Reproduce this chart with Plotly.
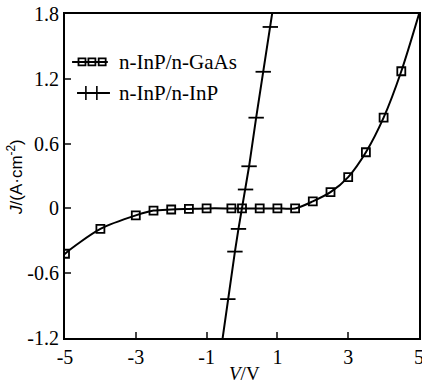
import plotly.graph_objects as go

# n-InP/n-GaAs
v_gaas = [-5, -4, -3, -2.5, -2, -1.5, -1, -0.3, 0, 0.5, 1, 1.5, 2, 2.5, 3, 3.5, 4, 4.5]
j_gaas = [-0.42, -0.19, -0.065, -0.02, -0.01, -0.005, 0.0, 0.0, 0.0, 0.0, 0.0, 0.0, 0.065, 0.15, 0.29, 0.52, 0.84, 1.27]
v_gaas_line = [-5.1] + v_gaas + [5.0]
j_gaas_line = [-0.46] + j_gaas + [1.80]

# n-InP/n-InP
v_inp = [-0.4, -0.2, -0.1, 0.1, 0.2, 0.4, 0.6, 0.8]
j_inp = [-0.84, -0.40, -0.19, 0.175, 0.39, 0.84, 1.265, 1.68]
v_inp_line = [-0.62] + v_inp + [0.92]
j_inp_line = [-1.37] + j_inp + [1.95]

x_ticks = [-5, -3, -1, 1, 3, 5]
x_tick_text = ["-5", "-3", "-1", "1", "3", "5"]
y_ticks = [-1.2, -0.6, 0, 0.6, 1.2, 1.8]
y_tick_text = ["-1.2", "-0.6", "0", "0.6", "1.2", "1.8"]

# legend sample geometry (overlay axis 0..1)
leg_g_line_x = [0.02, 0.121]
leg_g_mark_x = [0.048, 0.076, 0.105]
leg_g_y = 0.852
leg_i_line_x = [0.034, 0.127]
leg_i_mark_x = [0.059, 0.090]
leg_i_y = 0.756
leg_text_x = 0.147

SERIF = "Liberation Serif, Times New Roman, Tinos, serif"
SANS = "Liberation Sans, Arial, sans-serif"
fig = go.Figure()

fig.add_trace(go.Scatter(x=v_gaas_line, y=j_gaas_line, mode="lines",
                         line=dict(color="black", width=2, shape="spline", smoothing=0.8),
                         showlegend=False, hoverinfo="skip"))
fig.add_trace(go.Scatter(x=v_gaas, y=j_gaas, mode="markers", name="n-InP/n-GaAs",
                         marker=dict(symbol="square-open", size=8, color="black", line=dict(width=1.8)),
                         showlegend=False))
fig.add_trace(go.Scatter(x=v_inp_line, y=j_inp_line, mode="lines",
                         line=dict(color="black", width=2),
                         showlegend=False, hoverinfo="skip"))
fig.add_trace(go.Scatter(x=v_inp, y=j_inp, mode="markers", name="n-InP/n-InP",
                         marker=dict(symbol="line-ew", size=11, color="black", line=dict(width=1.8, color="black")),
                         showlegend=False))

# legend samples
fig.add_trace(go.Scatter(x=leg_g_line_x, y=[leg_g_y] * 2, mode="lines", xaxis="x2", yaxis="y2",
                         line=dict(color="black", width=2), showlegend=False, hoverinfo="skip"))
fig.add_trace(go.Scatter(x=leg_g_mark_x, y=[leg_g_y] * 3, mode="markers", xaxis="x2", yaxis="y2",
                         marker=dict(symbol="square-open", size=7, color="black", line=dict(width=1.8)),
                         showlegend=False, hoverinfo="skip"))
fig.add_trace(go.Scatter(x=leg_i_line_x, y=[leg_i_y] * 2, mode="lines", xaxis="x2", yaxis="y2",
                         line=dict(color="black", width=2), showlegend=False, hoverinfo="skip"))
fig.add_trace(go.Scatter(x=leg_i_mark_x, y=[leg_i_y] * 2, mode="markers", xaxis="x2", yaxis="y2",
                         marker=dict(symbol="line-ns", size=10, color="black", line=dict(width=1.6, color="black")),
                         showlegend=False, hoverinfo="skip"))
fig.add_annotation(x=leg_text_x, y=leg_g_y, xref="x2", yref="y2", text="n-InP/n-GaAs", showarrow=False,
                   xanchor="left", yanchor="middle", font=dict(family=SERIF, size=21, color="black"))
fig.add_annotation(x=leg_text_x, y=leg_i_y, xref="x2", yref="y2", text="n-InP/n-InP", showarrow=False,
                   xanchor="left", yanchor="middle", font=dict(family=SERIF, size=21, color="black"))

L, R, T, B = 65, 3, 14, 47
W, H = 422, 385
pw, ph = W - L - R, H - T - B

# axis titles (pixel placements converted to paper coordinates)
fig.add_annotation(x=0.508, y=(H - B - 373) / ph, xref="paper", yref="paper", text="<i>V</i>/V",
                   showarrow=False, xanchor="center", yanchor="middle",
                   font=dict(family=SERIF, size=19, color="black"))
fig.add_annotation(x=(15 - L) / pw, y=(H - B - 177) / ph, xref="paper", yref="paper",
                   text="<i>J</i>/(A·cm<sup>-2</sup>)",
                   showarrow=False, textangle=-90, xanchor="center", yanchor="middle",
                   font=dict(family=SANS, size=17, color="black"))

fig.update_layout(
    width=W, height=H,
    margin=dict(l=L, r=R, t=T, b=B),
    paper_bgcolor="white", plot_bgcolor="white",
    font=dict(family=SERIF, size=20, color="black"),
    xaxis=dict(range=[-5, 5], tickvals=x_ticks, ticktext=x_tick_text, ticks="inside", ticklen=6,
               tickwidth=1.5, ticklabeloverflow="allow",
               showline=True, linewidth=2, linecolor="black", mirror=True, showgrid=False,
               zeroline=False, tickfont=dict(family=SERIF, size=20), automargin=False),
    yaxis=dict(range=[-1.2, 1.8], tickvals=y_ticks, ticktext=y_tick_text, ticks="inside",
               ticklen=6, tickwidth=1.5, ticklabeloverflow="allow",
               showline=True, linewidth=2, linecolor="black", mirror=True, showgrid=False,
               zeroline=False, tickfont=dict(family=SERIF, size=20), automargin=False),
    xaxis2=dict(range=[0, 1], overlaying="x", visible=False, fixedrange=True),
    yaxis2=dict(range=[0, 1], overlaying="y", visible=False, fixedrange=True),
)

fig.write_html("out.html", config={"displayModeBar": False},
               post_script="document.body.style.margin='0';document.body.style.padding='0';")
